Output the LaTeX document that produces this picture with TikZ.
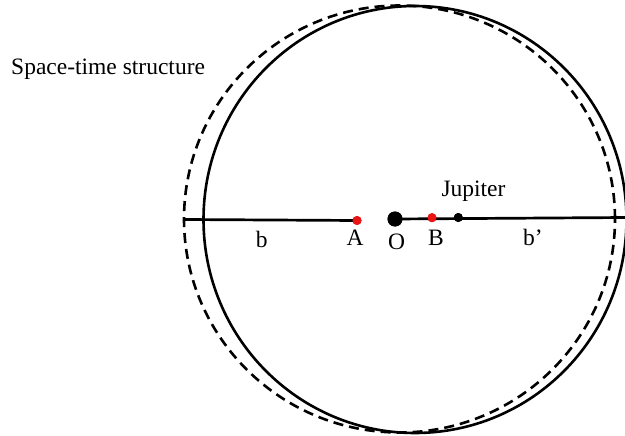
\documentclass[tikz,border=0pt]{standalone}
\usepackage{fontspec}
\setmainfont{Liberation Serif}
\usetikzlibrary{positioning}
\usetikzlibrary{calc}
\definecolor{figRojo}{RGB}{235,20,20}
\tikzset{
  orbita/.style={line width=2.6pt, draw=black},
  orbitad/.style={line width=2.6pt, draw=black, dash pattern=on 10pt off 6pt},
  eje/.style={line width=2.7pt, draw=black},
  punto/.style={circle, fill=figRojo, inner sep=0pt, minimum size=9pt},
  puntog/.style={circle, fill=black, inner sep=0pt, minimum size=15pt},
  puntoj/.style={circle, fill=black, inner sep=0pt, minimum size=9pt},
  etiqueta/.style={anchor=base, inner sep=0pt, font=\fontsize{23.5}{28}\selectfont}
}
\begin{document}
\begin{tikzpicture}[x=1pt, y=-1pt]
  \useasboundingbox (0,0) rectangle (625,436);
  % estructuras
  \draw[orbita] (415,219.5) ellipse [x radius=211.5pt, y radius=213.5pt];
  \draw[orbitad] (399.5,219) ellipse [x radius=215.5pt, y radius=213.5pt];
  % puntos
  \coordinate (izq) at (184,219.5);
  \coordinate (der) at (626,217.5);
  \node[punto] (A) at (357,220.5) {};
  \node[puntog] (O) at (395,219) {};
  \node[punto] (B) at (432,217.7) {};
  \node[puntoj] (J) at (458.3,217.5) {};
  \draw[eje] (izq) -- (A.center);
  \draw[eje] (O.center) -- (der);
  \node[punto] at (A) {};
  \node[punto] at (B) {};
  \node[puntoj] at (J) {};
  \node[puntog] at (O) {};
  % etiquetas
  \node[etiqueta, anchor=base west] (st) at (11,75) {Space-time structure};
  \node[etiqueta] (lJ) at (473.5,196.7) {Jupiter};
  \node[etiqueta] (lb) at (261.7,247.7) {b};
  \node[etiqueta] (lA) at (355,245) {A};
  \node[etiqueta] (lO) at (396.5,249.3) {O};
  \node[etiqueta] (lB) at (436,245) {B};
  \node[etiqueta] (lbp) at (533,245) {b’};
\end{tikzpicture}
\end{document}
